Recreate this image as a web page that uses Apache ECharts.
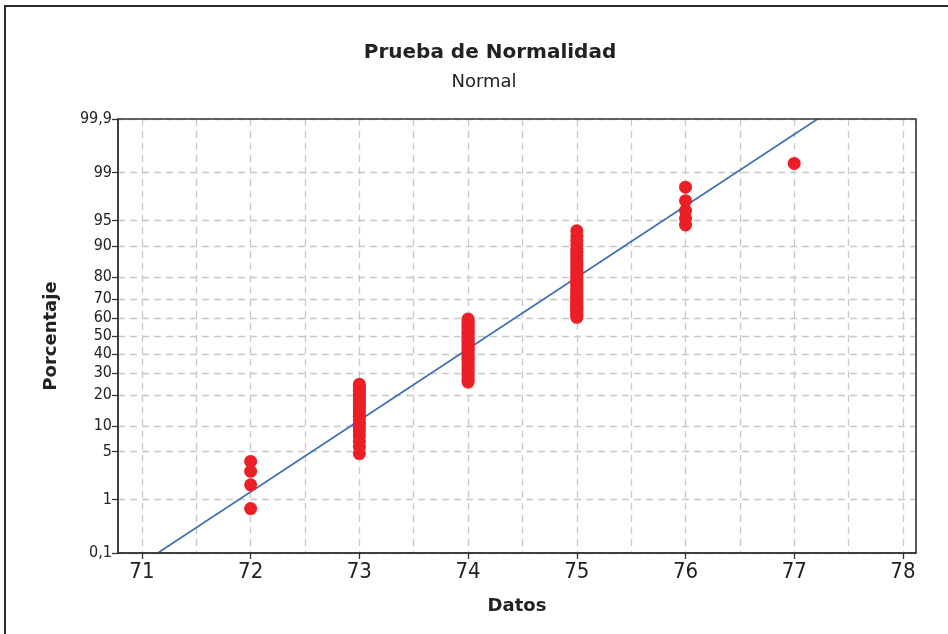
<!DOCTYPE html>
<html>
<head>
<meta charset="utf-8">
<script src="https://cdn.jsdelivr.net/npm/echarts@6/dist/echarts.min.js"></script>
<style>
  html, body { margin: 0; padding: 0; background: #fff; }
  #normal-plot { width: 948px; height: 634px; }
</style>
</head>
<body>
<div id="normal-plot"></div>
<script>
// values (Porcentaje of each point, grouped by Datos value)
const dataValues = [72, 73, 74, 75, 76, 77];
const pct72 = [0.7, 1.7, 2.7, 3.7];
const pct73 = [4.7, 5.7, 6.7, 7.7, 8.7, 9.7, 10.7, 11.7, 12.6, 13.6, 14.6, 15.6, 16.6,
  17.6, 18.6, 19.6, 20.6, 21.6, 22.6, 23.6, 24.6];
const pct74 = [25.6, 26.6, 27.6, 28.6, 29.6, 30.6, 31.6, 32.6, 33.6, 34.6, 35.6, 36.6,
  37.6, 38.5, 39.5, 40.5, 41.5, 42.5, 43.5, 44.5, 45.5, 46.5, 47.5, 48.5, 49.5, 50.5,
  51.5, 52.5, 53.5, 54.5, 55.5, 56.5, 57.5, 58.5, 59.5];
const pct75 = [60.5, 61.5, 62.4, 63.4, 64.4, 65.4, 66.4, 67.4, 68.4, 69.4, 70.4, 71.4,
  72.4, 73.4, 74.4, 75.4, 76.4, 77.4, 78.4, 79.4, 80.4, 81.4, 82.4, 83.4, 84.4, 85.4,
  86.4, 87.4, 88.3, 89.3, 90.3, 91.3, 92.3, 93.3];
const pct76 = [94.3, 95.3, 96.3, 97.3, 98.3];
const pct77 = [99.3];
const pctGroups = [pct72, pct73, pct74, pct75, pct76, pct77];

// fitted normal line
const fitMean = 74.18;
const fitSd = 0.982;

// axes
const xTicks = [71, 72, 73, 74, 75, 76, 77, 78];
const xGrid = [71, 71.5, 72, 72.5, 73, 73.5, 74, 74.5, 75, 75.5, 76, 76.5, 77, 77.5, 78];
const yTickPct = [0.1, 1, 5, 10, 20, 30, 40, 50, 60, 70, 80, 90, 95, 99, 99.9];
const yTickLabels = ['0,1', '1', '5', '10', '20', '30', '40', '50', '60', '70', '80', '90', '95', '99', '99,9'];

// inverse normal cdf (Acklam) - probability scale of the y axis
function normInv(p) {
  const a = [-3.969683028665376e+01, 2.209460984245205e+02, -2.759285104469687e+02,
    1.383577518672690e+02, -3.066479806614716e+01, 2.506628277459239e+00];
  const b = [-5.447609879822406e+01, 1.615858368580409e+02, -1.556989798598866e+02,
    6.680131188771972e+01, -1.328068155288572e+01];
  const c = [-7.784894002430293e-03, -3.223964580411365e-01, -2.400758277161838e+00,
    -2.549732539343734e+00, 4.374664141464968e+00, 2.938163982698783e+00];
  const d = [7.784695709041462e-03, 3.224671290700398e-01, 2.445134137142996e+00,
    3.754408661907416e+00];
  const pl = 0.02425;
  if (p < pl) {
    const q = Math.sqrt(-2 * Math.log(p));
    return (((((c[0]*q+c[1])*q+c[2])*q+c[3])*q+c[4])*q+c[5]) / ((((d[0]*q+d[1])*q+d[2])*q+d[3])*q+1);
  }
  if (p > 1 - pl) {
    const q = Math.sqrt(-2 * Math.log(1 - p));
    return -(((((c[0]*q+c[1])*q+c[2])*q+c[3])*q+c[4])*q+c[5]) / ((((d[0]*q+d[1])*q+d[2])*q+d[3])*q+1);
  }
  const q = p - 0.5, r = q * q;
  return (((((a[0]*r+a[1])*r+a[2])*r+a[3])*r+a[4])*r+a[5])*q / (((((b[0]*r+b[1])*r+b[2])*r+b[3])*r+b[4])*r+1);
}
const toZ = (pct) => normInv(pct / 100);

const zMin = toZ(yTickPct[0]);
const zMax = toZ(yTickPct[yTickPct.length - 1]);
const yTickZ = yTickPct.map(toZ);

const points = [];
dataValues.forEach((v, i) => {
  pctGroups[i].forEach((p) => points.push([v, toZ(p)]));
});

const fitLine = [
  [fitMean + zMin * fitSd, zMin],
  [fitMean + zMax * fitSd, zMax]
];

const narrowFont = '"DejaVu Sans Condensed", "DejaVu Sans", sans-serif';
const gridLine = { show: true, lineStyle: { color: '#c8c8c8', width: 1.3, type: [7, 5] } };

const plotLeft = 118, plotTop = 119, plotRight = 32, plotBottom = 81;

const option = {
  animation: false,
  backgroundColor: '#fff',
  title: [
    {
      text: 'Prueba de Normalidad',
      left: 485, top: 38, textAlign: 'center',
      textStyle: { fontFamily: 'DejaVu Sans', fontWeight: 'bold', fontSize: 20, color: '#222' }
    },
    {
      text: 'Normal',
      left: 479, top: 68, textAlign: 'center',
      textStyle: { fontFamily: 'DejaVu Sans', fontWeight: 'normal', fontSize: 18, color: '#222' }
    }
  ],
  graphic: [
    {
      type: 'rect', silent: true,
      shape: { x: 5, y: 6, width: 980, height: 660 },
      style: { fill: 'none', stroke: '#2a2a2a', lineWidth: 2 }
    },
    {
      // plot frame drawn over the dashed grid
      type: 'rect', silent: true, z: 100,
      shape: { x: plotLeft, y: plotTop, width: 948 - plotLeft - plotRight, height: 634 - plotTop - plotBottom },
      style: { fill: 'none', stroke: '#333', lineWidth: 1.6 }
    }
  ],
  grid: { left: plotLeft, right: plotRight, top: plotTop, bottom: plotBottom },
  xAxis: [
    {
      type: 'value', min: 70.78, max: 78.12,
      name: 'Datos', nameLocation: 'middle', nameGap: 44,
      nameTextStyle: { fontFamily: 'DejaVu Sans', fontWeight: 'bold', fontSize: 18, color: '#222' },
      axisLine: { show: true, onZero: false, lineStyle: { color: '#333', width: 1.5 } },
      axisTick: { show: true, customValues: xTicks, length: 6, lineStyle: { color: '#333', width: 1.3 } },
      axisLabel: { customValues: xTicks, fontFamily: narrowFont, fontSize: 22, color: '#222', margin: 8 },
      splitLine: { show: false }
    },
    {
      type: 'value', min: 70.78, max: 78.12, position: 'bottom',
      axisLine: { show: false, onZero: false },
      axisTick: { show: false, customValues: xGrid },
      axisLabel: { show: false },
      splitLine: gridLine
    }
  ],
  yAxis: {
    type: 'value', min: zMin, max: zMax,
    name: 'Porcentaje', nameLocation: 'middle', nameGap: 58,
    nameTextStyle: { fontFamily: 'DejaVu Sans', fontWeight: 'bold', fontSize: 18, color: '#222' },
    axisLine: { show: true, onZero: false, lineStyle: { color: '#333', width: 1.5 } },
    axisTick: { show: true, customValues: yTickZ, length: 6, lineStyle: { color: '#333', width: 1.3 } },
    axisLabel: {
      customValues: yTickZ, fontFamily: narrowFont, fontSize: 16, color: '#222', margin: 6,
      formatter: (v) => {
        let best = 0;
        yTickZ.forEach((t, i) => { if (Math.abs(t - v) < Math.abs(yTickZ[best] - v)) best = i; });
        return yTickLabels[best];
      }
    },
    splitLine: gridLine
  },
  series: [
    {
      type: 'line', xAxisIndex: 0, data: fitLine,
      symbol: 'none', silent: true, z: 1,
      lineStyle: { color: '#3a6db5', width: 1.5 }
    },
    {
      type: 'scatter', xAxisIndex: 0, data: points,
      symbolSize: 13, z: 2,
      itemStyle: { color: '#ec1f26', opacity: 1 }
    }
  ]
};

const chart = echarts.init(document.getElementById('normal-plot'));
chart.setOption(option);
window.addEventListener('resize', () => chart.resize());
</script>
</body>
</html>
